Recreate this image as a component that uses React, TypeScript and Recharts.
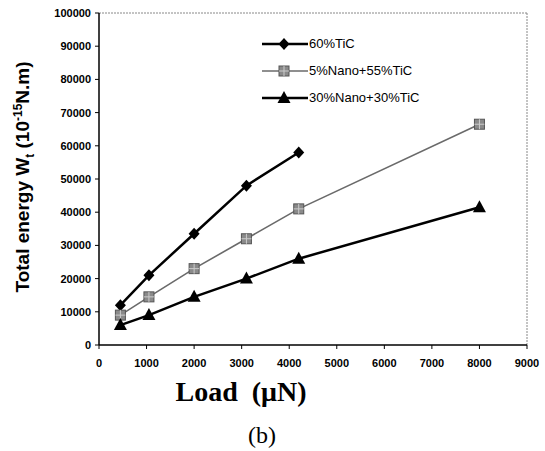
import { LineChart, Line, XAxis, YAxis, ReferenceLine } from "recharts";

const loadsA = [450, 1050, 2000, 3100, 4200];
const tic60 = [12000, 21000, 33500, 48000, 58000];
const loadsB = [450, 1050, 2000, 3100, 4200, 8000];
const nano5 = [9000, 14500, 23000, 32000, 41000, 66500];
const nano30 = [6000, 9000, 14500, 20000, 26000, 41500];

const xTicks = [0, 1000, 2000, 3000, 4000, 5000, 6000, 7000, 8000, 9000];
const yTicks = [0, 10000, 20000, 30000, 40000, 50000, 60000, 70000, 80000, 90000, 100000];

const series = [
  { name: "60%TiC", data: loadsA.map((x, i) => ({ x, y: tic60[i] })), color: "#000", width: 2.5, shape: "diamond" },
  { name: "5%Nano+55%TiC", data: loadsB.map((x, i) => ({ x, y: nano5[i] })), color: "#6a6a6a", width: 1.6, shape: "square" },
  { name: "30%Nano+30%TiC", data: loadsB.map((x, i) => ({ x, y: nano30[i] })), color: "#000", width: 2.5, shape: "triangle" },
];

function Marker({ cx, cy, shape }: { cx: number; cy: number; shape: string }) {
  if (shape === "diamond")
    return <path d={`M${cx},${cy - 6}L${cx + 5.5},${cy}L${cx},${cy + 6}L${cx - 5.5},${cy}Z`} fill="#000" />;
  if (shape === "square")
    return (
      <g>
        <rect x={cx - 5} y={cy - 5} width={10} height={10} fill="#8a8a8a" stroke="#555" strokeWidth={1} />
        <path d={`M${cx - 5},${cy}H${cx + 5}M${cx},${cy - 5}V${cy + 5}`} stroke="#ccc" strokeWidth={1} />
      </g>
    );
  return <path d={`M${cx},${cy - 7}L${cx + 6.5},${cy + 5}L${cx - 6.5},${cy + 5}Z`} fill="#000" />;
}

const LegendBox = () => (
  <div style={{ position: "absolute", left: 262, top: 30, fontFamily: "Liberation Sans, Arial, sans-serif", fontSize: 13 }}>
    {series.map((s) => (
      <div key={s.name} style={{ display: "flex", alignItems: "center", height: 27 }}>
        <svg width={46} height={14}>
          <line x1={0} y1={7} x2={46} y2={7} stroke={s.color} strokeWidth={s.width} />
          <Marker cx={22} cy={7} shape={s.shape} />
        </svg>
        <span style={{ marginLeft: 1 }}>{s.name}</span>
      </div>
    ))}
  </div>
);

export default function App() {
  const tick = { fontFamily: "Liberation Sans, Arial, sans-serif", fontSize: 11, fontWeight: 700, fill: "#000" };
  return (
    <div style={{ position: "absolute", left: 0, top: 0, width: 545, height: 451, background: "#fff" }}>
      <LineChart width={545} height={451} margin={{ top: 13, right: 18, bottom: 76, left: 38 }}>
        <XAxis
          type="number"
          dataKey="x"
          domain={[0, 9000]}
          ticks={xTicks}
          tick={tick}
          tickSize={4}
          tickMargin={10}
          height={30}
          axisLine={{ stroke: "#000", strokeWidth: 1.5 }}
          tickLine={{ stroke: "#000" }}
          allowDuplicatedCategory={false}
        />
        <YAxis
          type="number"
          dataKey="y"
          domain={[0, 100000]}
          ticks={yTicks}
          tick={tick}
          tickSize={4}
          tickMargin={4}
          width={61}
          axisLine={{ stroke: "#000", strokeWidth: 1.5 }}
          tickLine={{ stroke: "#000" }}
        />
        <ReferenceLine y={100000} stroke="#888" strokeDasharray="2 1" />
        <ReferenceLine x={9000} stroke="#888" strokeDasharray="2 1" />
        {series.map((s) => (
          <Line
            key={s.name}
            data={s.data}
            dataKey="y"
            name={s.name}
            stroke={s.color}
            strokeWidth={s.width}
            isAnimationActive={false}
            dot={(p: any) => <Marker key={p.index} cx={p.cx} cy={p.cy} shape={s.shape} />}
            activeDot={false}
          />
        ))}
      </LineChart>
      <LegendBox />
      <div
        style={{
          position: "absolute",
          left: 24,
          top: 177,
          transform: "translate(-50%, -50%) rotate(-90deg)",
          whiteSpace: "nowrap",
          fontFamily: "Liberation Sans, Arial, sans-serif",
          fontWeight: 700,
          fontSize: 19,
        }}
      >
        Total energy W<sub style={{ fontSize: 12 }}>t</sub> (10<sup style={{ fontSize: 12 }}>-15</sup>N.m)
      </div>
      <div
        style={{
          position: "absolute",
          left: 241,
          top: 392,
          transform: "translate(-50%, -50%)",
          whiteSpace: "nowrap",
          fontFamily: "Liberation Serif, Times New Roman, serif",
          fontWeight: 700,
          fontSize: 28,
        }}
      >
        Load&nbsp;&nbsp;(μN)
      </div>
      <div
        style={{
          position: "absolute",
          left: 262,
          top: 435,
          transform: "translate(-50%, -50%)",
          fontFamily: "Liberation Serif, Times New Roman, serif",
          fontSize: 24,
        }}
      >
        (b)
      </div>
    </div>
  );
}
